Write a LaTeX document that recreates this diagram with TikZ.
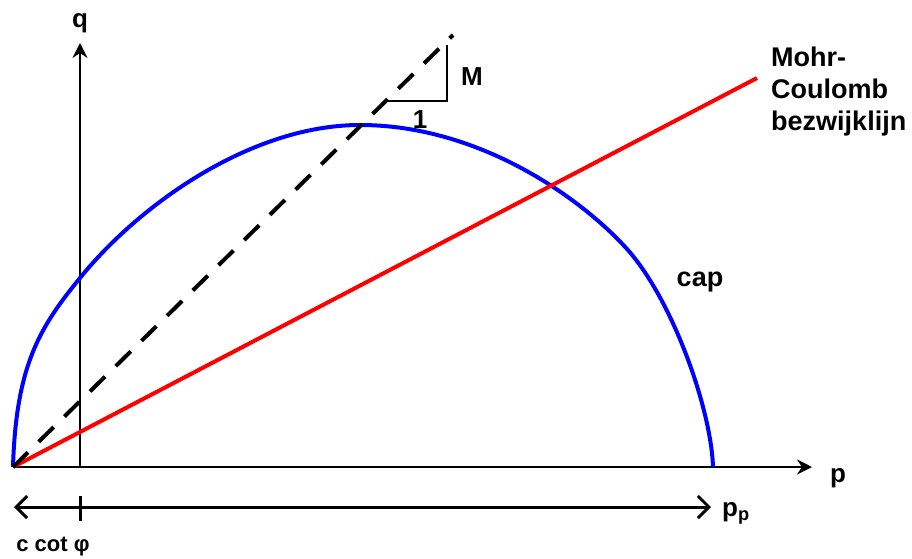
\documentclass[tikz,border=0pt]{standalone}
\usepackage{fontspec}
\setmainfont{Liberation Sans}
\usetikzlibrary{arrows.meta}
\definecolor{capblue}{RGB}{0,0,255}
\definecolor{mcred}{RGB}{255,0,0}
\begin{document}
\begin{tikzpicture}[x=1pt,y=-1pt,
  lbl/.style={font=\bfseries\fontsize{26}{30}\selectfont,inner sep=0pt},
  axis/.style={line width=2pt,-{Stealth[length=15pt,width=15pt,inset=5pt]}},
  rangearrow/.style={line width=3pt,{Straight Barb[length=11pt,width=22pt,line width=3pt]}-{Straight Barb[length=11pt,width=22pt,line width=3pt]}},
  capline/.style={line width=4pt,capblue},
  mcline/.style={line width=4pt,mcred},
  mline/.style={line width=4pt,dash pattern=on 21pt off 15pt},
  tri/.style={line width=1.5pt}]
\useasboundingbox (0,0) rectangle (912,558);
% coordinates
\coordinate (O) at (13,467);
\coordinate (qbase) at (80,467);
\coordinate (qtop) at (80,43);
\coordinate (pend) at (812,467);
\coordinate (Dend) at (453,35);
\coordinate (Rend) at (757,78);
\coordinate (T1) at (385,101);
\coordinate (T2) at (447,101);
\coordinate (T3) at (447,45);
\coordinate (BL) at (14,507);
\coordinate (BR) at (711,507);
\coordinate (tickT) at (80,496);
\coordinate (tickB) at (80,521);
\coordinate (C1) at (80,278);
\coordinate (Apex) at (360,125);
\coordinate (C2) at (627,249);
\coordinate (Pp) at (713,467);
% axes
\draw[axis] (O) -- (pend);
\draw[axis] (qbase) -- (qtop);
% cap curve
\draw[capline] (O) .. controls (16,365) and (40,327) .. (C1)
  .. controls (138,206) and (250,125) .. (Apex)
  .. controls (480,125) and (582,199) .. (C2)
  .. controls (672,299) and (711,408) .. (Pp);
% lines
\draw[mcline] (O) -- (Rend);
\draw[mline] (O) -- (Dend);
\draw[tri] (T1) -- (T2) -- (T3);
% bottom arrow
\draw[rangearrow] (BL) -- (BR);
\draw[line width=3pt] (tickT) -- (tickB);
% labels
\node[lbl] (lq) at (80,23) {q};
\node[lbl] (lp) at (838,478) {p};
\node[lbl,anchor=west] (lpp) at (722,513) {p\textsubscript{p}};
\node[lbl,font=\bfseries\fontsize{22}{26}\selectfont] (lc) at (53,547) {c cot φ};
\node[lbl] (lM) at (472,77) {M};
\node[lbl] (l1) at (420,120) {1};
\node[lbl,font=\bfseries\fontsize{27}{30}\selectfont] (lcap) at (700,282) {cap};
\node[lbl,font=\bfseries\fontsize{27}{32}\selectfont,align=left,anchor=north west] (lmc) at (771,47) {Mohr-\\Coulomb\\bezwijklijn};
\end{tikzpicture}
\end{document}
